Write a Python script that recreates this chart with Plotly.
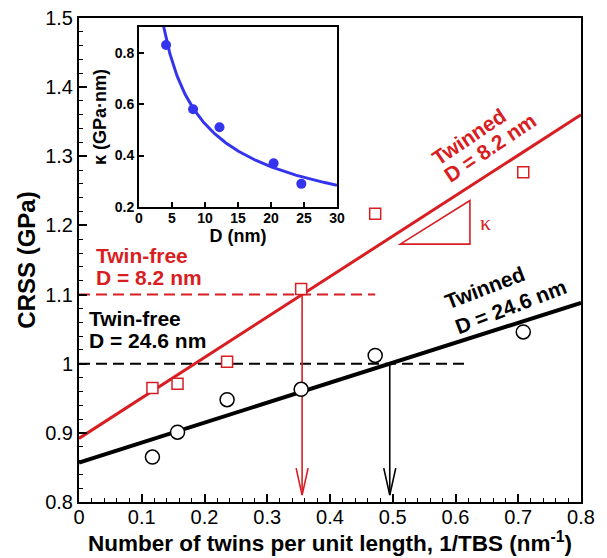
import numpy as np
import plotly.graph_objects as go

# ---------------- data ----------------
tbs_inv = [0.117, 0.157, 0.236, 0.354, 0.472, 0.708]          # 1/TBS (nm^-1)
crss_twinned_d82 = [0.965, 0.971, 1.003, 1.108, 1.217, 1.277]  # GPa, D = 8.2 nm
crss_twinned_d246 = [0.865, 0.901, 0.948, 0.963, 1.012, 1.046] # GPa, D = 24.6 nm

fit_x = [0.0, 0.8]
fit_d82 = [0.892, 1.360]
fit_d246 = [0.857, 1.088]

twinfree_d82 = 1.1
twinfree_d246 = 1.0
twinfree_d82_xend = 0.472
twinfree_d246_xend = 0.618
arrow_tip_y = 0.81

kappa_tri_x = [0.512, 0.623]
kappa_tri_y = [1.173, 1.236]

inset_D = [4.1, 8.2, 12.2, 20.4, 24.6]         # nm
inset_kappa = [0.83, 0.58, 0.51, 0.37, 0.29]   # GPa nm

xticks_main = [0, 0.1, 0.2, 0.3, 0.4, 0.5, 0.6, 0.7, 0.8]
yticks_main = [0.8, 0.9, 1.0, 1.1, 1.2, 1.3, 1.4, 1.5]
xticks_inset = [0, 5, 10, 15, 20, 25, 30]
yticks_inset = [0.2, 0.4, 0.6, 0.8]

# ---------------- style ----------------
RED = "#d81e22"
BLUE = "#3434ee"
FONT = "Liberation Sans, Arial, sans-serif"
W, H = 607, 558
ML, MR, MT, MB = 79, 26, 18, 56
PW, PH = W - ML - MR, H - MT - MB
XR, YR = [0, 0.8], [0.8, 1.5]
dx_px = (XR[1] - XR[0]) / PW
dy_px = (YR[1] - YR[0]) / PH

fig = go.Figure()

# twin-free dashed levels
fig.add_trace(go.Scatter(x=[0, twinfree_d82_xend], y=[twinfree_d82] * 2, mode="lines",
                         line=dict(color=RED, width=2, dash="11px,6px"), showlegend=False))
fig.add_trace(go.Scatter(x=[0, twinfree_d246_xend], y=[twinfree_d246] * 2, mode="lines",
                         line=dict(color="black", width=2, dash="11px,6px"), showlegend=False))

# arrows where fits reach the twin-free levels
def slope(fy):
    return (fy[1] - fy[0]) / (fit_x[1] - fit_x[0])

for fy, lvl, col in [(fit_d82, twinfree_d82, RED), (fit_d246, twinfree_d246, "black")]:
    xa = (lvl - fy[0]) / slope(fy)
    fig.add_trace(go.Scatter(x=[xa, xa], y=[lvl, arrow_tip_y], mode="lines",
                             line=dict(color=col, width=1.6), showlegend=False))
    hw, hl = 6 * dx_px, 27 * dy_px
    fig.add_trace(go.Scatter(x=[xa - hw, xa, xa + hw], y=[arrow_tip_y + hl, arrow_tip_y, arrow_tip_y + hl],
                             mode="lines", line=dict(color=col, width=1.6), showlegend=False))

# fit lines
fig.add_trace(go.Scatter(x=fit_x, y=fit_d82, mode="lines", line=dict(color=RED, width=3), showlegend=False))
fig.add_trace(go.Scatter(x=fit_x, y=fit_d246, mode="lines", line=dict(color="black", width=4), showlegend=False))

# data markers
fig.add_trace(go.Scatter(x=tbs_inv, y=crss_twinned_d82, mode="markers",
                         marker=dict(symbol="square", size=11, color="white", line=dict(color=RED, width=1.5)),
                         showlegend=False))
fig.add_trace(go.Scatter(x=tbs_inv, y=crss_twinned_d246, mode="markers",
                         marker=dict(symbol="circle", size=14, color="white", line=dict(color="black", width=1.5)),
                         showlegend=False))

# kappa triangle
fig.add_shape(type="path", xref="x", yref="y",
              path=f"M {kappa_tri_x[0]},{kappa_tri_y[0]} L {kappa_tri_x[1]},{kappa_tri_y[0]} L {kappa_tri_x[1]},{kappa_tri_y[1]} Z",
              line=dict(color=RED, width=1.6))

# inset
lnD = np.log(inset_D)
lnk = np.log(inset_kappa)
b, a = np.polyfit(lnD, lnk, 1)
Dc = np.linspace(3.0, 30.0, 200)
fig.add_trace(go.Scatter(x=Dc, y=np.exp(a) * Dc ** b, mode="lines", xaxis="x2", yaxis="y2",
                         line=dict(color=BLUE, width=3), showlegend=False))
fig.add_trace(go.Scatter(x=inset_D, y=inset_kappa, mode="markers", xaxis="x2", yaxis="y2",
                         marker=dict(color=BLUE, size=10), showlegend=False))

# annotations
def ann(x, y, text, color="black", size=21, angle=0, xanchor="left", family=FONT, weight="bold"):
    fig.add_annotation(x=x, y=y, xref="x", yref="y", text=text, showarrow=False,
                       xanchor=xanchor, yanchor="middle", textangle=angle,
                       font=dict(family=family, size=size, color=color, weight=weight))

ann(0.0239, 1.1565, "Twin-free", RED)
ann(0.0239, 1.1248, "D = 8.2 nm", RED)
ann(0.0132, 1.0656, "Twin-free")
ann(0.0132, 1.0338, "D = 24.6 nm")
ann(0.622, 1.3287, "Twinned", RED, angle=-34, xanchor="center")
ann(0.655, 1.3134, "D = 8.2 nm", RED, angle=-34, xanchor="center")
ann(0.647, 1.1099, "Twinned", angle=-21, xanchor="center")
ann(0.688, 1.0834, "D = 24.6 nm", angle=-21, xanchor="center")
ann(0.648, 1.204, "κ", RED, size=22, xanchor="center", family="Liberation Serif, serif", weight="normal")

axis_common = dict(showgrid=False, zeroline=False, showline=True, linecolor="black", mirror=True,
                   ticks="inside", tickcolor="black", automargin=False)

fig.update_layout(
    width=W, height=H, margin=dict(l=ML, r=MR, t=MT, b=MB, autoexpand=False),
    paper_bgcolor="white", plot_bgcolor="white",
    font=dict(family=FONT, color="black"),
    xaxis=dict(range=XR, tickvals=xticks_main, ticklen=8, tickwidth=1.5, linewidth=2,
               tickfont=dict(size=20), ticklabelstandoff=-4,
               minor=dict(dtick=0.02, ticks="inside", ticklen=4, tickwidth=1.2, tickcolor="black"),
               title=dict(text="Number of twins per unit length, 1/TBS (nm<sup>-1</sup>)",
                          font=dict(size=22.5, weight="bold"), standoff=2),
               **axis_common),
    yaxis=dict(range=YR, tickvals=yticks_main, ticklen=8, tickwidth=1.5, linewidth=2,
               tickfont=dict(size=20), minor=dict(dtick=0.02, ticks="inside", ticklen=4, tickwidth=1.2, tickcolor="black"),
               title=dict(text="CRSS (GPa)", font=dict(size=24, weight="bold"), standoff=3),
               **axis_common),
    xaxis2=dict(domain=[0.1195, 0.5139], anchor="y2", range=[0, 30], tickvals=xticks_inset,
                ticklen=5, tickwidth=1.5, linewidth=2, ticklabelstandoff=-3,
                tickfont=dict(size=14, weight="bold"),
                title=dict(text="D (nm)", font=dict(size=18, weight="bold"), standoff=0),
                **axis_common),
    yaxis2=dict(domain=[0.6095, 0.9814], anchor="x2", range=[0.2, 0.9], tickvals=yticks_inset,
                ticklen=5, tickwidth=1.5, linewidth=2,
                tickfont=dict(size=14, weight="bold"),
                title=dict(text="κ (GPa·nm)", font=dict(size=18, weight="bold"), standoff=3),
                **axis_common),
)

# remove the default 8px page margin so the figure fills the window exactly
fig.write_html("out.html", config={"displayModeBar": False},
               post_script="document.body.style.margin='0';document.body.style.overflow='hidden';"
                           "document.documentElement.style.overflow='hidden';")
